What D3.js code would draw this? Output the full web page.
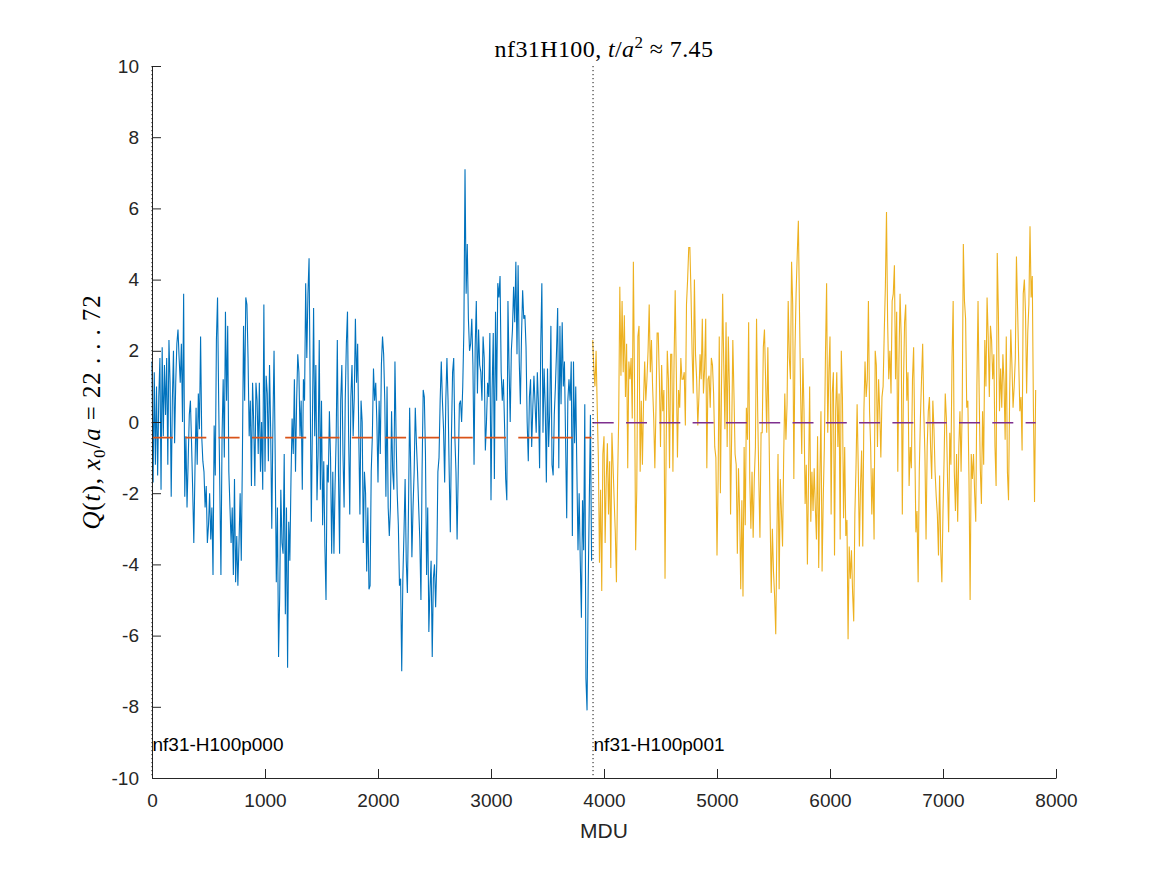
<!DOCTYPE html>
<html><head><meta charset="utf-8">
<script src="https://cdn.jsdelivr.net/npm/d3@7"></script>
<style>body{margin:0;background:#fff}</style>
</head><body>
<svg id="chart" width="1167" height="875"></svg>
<script>
// ---- data ----
const xTicks = [0, 1000, 2000, 3000, 4000, 5000, 6000, 7000, 8000];
const yTicks = [-10, -8, -6, -4, -2, 0, 2, 4, 6, 8, 10];
const sampleStep = 10;           // MDU between stored samples
const blueStart = 0;             // MDU of first sample, stream p000
const orangeStart = 3900;        // MDU of first sample, stream p001
const blueQ = [
 1.7,-1.7,1.4,-1.2,1.0,-1.5,0.7,1.8,-1.9,2.1,
 -0.4,1.6,0.2,1.8,-1.2,2.3,1.1,-2.1,0.6,2.0,
 -0.6,1.1,2.2,2.6,1.8,1.1,2.2,0.0,3.6,-2.1,
 -0.4,-2.4,-1.1,0.2,0.6,-0.6,-1.9,-3.4,-1.4,0.4,
 -1.2,0.8,-0.2,2.4,-0.4,-1.1,-1.4,-2.4,-1.8,-3.4,
 -2.9,-2.0,-3.3,-2.4,-4.3,-0.1,-1.5,2.3,3.5,0.6,
 -1.8,-4.3,-0.4,1.2,-1.0,3.1,0.6,2.7,-1.4,-2.4,
 -3.4,-2.4,-4.3,-1.6,-4.5,-3.2,-4.6,-3.4,-2.0,-3.9,
 -1.0,2.7,0.6,3.5,3.3,1.8,-0.4,0.6,-1.8,1.1,
 0.0,-1.8,1.1,0.6,-0.9,1.1,-1.4,0.0,-1.9,3.3,
 -1.4,1.3,0.8,-1.1,1.6,-0.2,-3.0,-0.1,2.0,-0.9,
 -4.5,-2.4,-6.6,-4.9,-1.9,-3.4,-3.7,-0.9,-5.4,-2.4,
 -6.9,-2.8,-3.9,-1.6,0.1,-0.9,1.2,-1.4,0.6,1.9,
 1.4,-0.4,0.6,-1.9,1.2,0.6,3.9,1.8,3.6,4.6,
 0.8,-2.8,0.1,3.2,-0.4,1.6,-2.2,-0.9,2.3,-1.9,
 0.6,-2.9,-1.1,-3.5,-5.0,-1.2,-1.7,0.3,-1.0,-3.7,
 -1.4,-3.7,-1.8,-0.4,2.3,-1.4,-3.7,0.6,1.6,-0.9,
 -2.4,0.6,2.2,3.1,-0.4,-2.6,0.7,1.6,-0.4,0.7,
 2.9,1.1,2.2,-0.4,-2.6,0.6,0.0,-3.4,-1.4,-2.0,
 -4.2,-2.4,-4.7,-4.6,-1.4,-0.4,1.5,0.6,1.1,0.0,
 -1.7,0.6,-0.9,1.6,2.4,1.9,0.6,-2.1,1.0,-2.4,
 -3.2,-2.4,0.3,-1.4,-1.9,1.7,-0.4,-2.0,-2.9,-4.6,
 -4.4,-7.0,-4.4,-3.1,-1.6,-3.9,-4.8,-2.4,0.4,-1.4,
 -3.8,-2.4,-1.4,0.4,-0.6,-1.4,-2.4,-3.3,-5.0,-1.4,
 0.9,0.7,-0.9,-4.3,-2.4,-5.9,-4.7,-3.9,-6.6,-4.4,
 -4.0,-5.2,-4.0,-1.4,-1.0,0.6,1.7,0.6,-0.2,-1.7,
 0.6,1.8,0.6,-1.4,-3.1,-0.4,1.4,1.8,-0.4,-1.4,
 -3.3,-1.4,0.5,0.6,0.0,1.0,2.6,7.1,3.6,5.0,
 2.9,2.0,2.2,2.9,1.6,-1.2,2.1,3.4,0.8,2.6,
 1.6,1.4,0.6,2.4,1.8,-0.8,0.0,1.1,0.7,2.5,
 -2.2,0.9,2.5,-1.6,3.1,0.6,3.9,3.5,4.1,1.4,
 0.6,1.2,-0.1,-1.6,-2.2,3.4,1.5,0.0,2.0,2.6,
 3.8,2.8,4.5,1.9,4.4,1.7,0.5,2.4,3.7,2.9,
 3.0,2.1,0.0,-1.1,0.7,1.2,-0.7,0.4,1.3,0.5,
 -0.3,1.4,0.5,-1.3,2.1,3.9,-0.3,1.5,0.4,-1.7,
 1.5,-0.7,0.3,2.7,-1.2,-1.5,0.2,1.0,2.0,3.2,
 -1.3,2.7,0.5,2.8,1.0,1.7,-0.5,-2.7,0.6,1.2,
 0.6,1.7,-3.2,1.7,-0.6,1.0,-1.4,-3.6,-2.0,-3.9,
 -5.5,-2.2,-3.6,0.5,-7.2,-8.1,-4.6,-2.2,0.2,-3.9
];
const orangeQ = [
 2.3,1.5,1.0,2.0,0.4,-1.0,-3.95,-1.9,-4.75,-0.9,
 -0.4,-3.4,-1.6,-0.6,-2.6,-1.1,-4.1,-0.3,-1.2,-2.2,
 -3.1,-4.5,-1.7,0.1,3.8,1.3,3.4,1.4,3.0,0.7,
 2.2,-1.3,1.7,1.2,1.8,0.1,4.5,1.1,-3.6,-1.9,
 2.4,2.7,-1.4,0.6,-1.2,0.6,1.7,0.6,1.2,2.0,
 3.3,1.4,2.3,1.0,0.1,-1.3,0.4,2.5,2.5,1.2,
 -0.7,1.6,0.3,0.9,-4.4,-0.7,2.0,1.2,-1.3,1.9,
 1.9,-1.4,1.7,3.7,1.4,-1.0,0.9,0.4,1.8,1.2,
 1.2,1.4,-0.1,3.3,4.0,4.9,4.9,3.6,1.9,0.8,
 4.0,1.9,1.2,-0.1,0.7,1.9,1.2,2.9,0.8,1.5,
 2.9,-1.3,1.2,1.3,0.4,1.8,1.6,0.8,-0.7,-1.0,
 -3.75,-1.6,2.4,-2.0,1.0,3.6,1.6,-0.2,2.8,-0.7,
 2.4,1.0,-2.6,-0.3,2.3,0.8,-0.9,-1.2,-3.7,-1.3,
 -2.5,-4.7,-2.2,-4.9,-0.7,-2.9,0.4,-0.5,2.8,-1.6,
 -3.0,-1.4,-3.25,-1.6,-0.7,2.9,0.3,-1.6,-3.25,-0.3,
 -0.3,2.1,2.6,1.2,-0.3,2.1,-0.2,-2.6,-4.8,-3.0,
 -4.2,-4.9,-5.96,-3.2,-0.9,-4.7,-1.6,-2.5,-3.5,-1.0,
 0.8,-0.5,0.5,3.4,1.8,1.2,4.5,3.3,-1.6,2.0,
 3.6,4.7,5.65,3.1,0.8,-0.9,1.8,0.3,-2.3,-1.2,
 -4.0,-1.6,1.0,-2.8,-1.4,-2.5,-1.3,-2.4,-3.3,-0.4,
 -4.1,-1.6,0.3,-4.2,-2.2,-0.7,1.9,3.9,-0.3,1.4,
 2.4,-2.6,0.8,1.4,-3.75,0.3,1.4,-0.7,0.8,-3.3,
 2.0,0.7,-2.7,-0.7,-3.2,-2.75,-6.1,-3.5,-4.4,-3.6,
 -4.8,-5.6,-2.6,-1.3,0.5,-1.3,-3.5,-1.8,-0.8,-3.5,
 0.3,1.7,0.7,1.2,3.4,0.3,-0.7,-2.6,-1.3,-3.3,
 2.0,1.6,-0.7,1.2,0.3,-1.0,0.7,1.0,2.5,3.8,
 5.9,2.8,1.2,2.0,0.8,3.4,3.6,4.4,1.2,3.1,
 -1.4,1.7,3.6,2.4,-2.6,1.0,2.8,3.3,0.6,1.4,
 -1.8,-0.7,-1.3,1.2,2.1,-0.5,-3.1,-2.5,-4.5,-1.4,
 0.1,1.2,2.2,0.3,-0.9,-3.3,-0.7,0.3,0.7,-0.7,
 -1.6,0.6,-0.2,-1.4,-2.1,-2.6,-3.75,-1.5,-3.6,-4.5,
 -2.5,-1.0,0.8,0.1,-1.6,-3.1,-0.3,-1.2,1.8,3.4,
 -1.4,-2.5,-0.9,-2.8,-0.7,0.3,-1.4,0.4,5.0,3.4,
 2.9,0.4,0.6,-1.6,-5.0,-0.9,-1.6,-0.9,-2.0,-2.8,
 1.0,3.4,0.8,-1.3,-2.3,0.3,-1.2,2.3,1.0,3.5,
 2.4,0.7,2.7,2.3,1.2,1.9,-0.7,-1.8,4.75,3.1,
 0.3,1.5,0.4,1.9,1.1,-0.5,2.4,-1.4,-2.2,0.8,
 2.6,1.6,0.4,1.0,1.8,4.65,3.2,1.7,0.3,0.7,
 -0.8,3.6,4.0,3.1,0.8,2.5,3.3,5.5,3.5,4.1,
 0.4,-2.25,0.9
];
const streamMeans = [-0.44, -0.02];
const streamBounds = [0, 3903];
const streamLabels = ["nf31-H100p000", "nf31-H100p001"];
const labelQ = -9.1;

// ---- drawing ----
const svg = d3.select("#chart");
const W = 1167, H = 875;
const mL = 152, mR = 1056, mT = 66, mB = 778;
const x = d3.scaleLinear().domain([0, 8000]).range([mL, mR]);
const y = d3.scaleLinear().domain([-10, 10]).range([mB, mT]);
const axisColor = "#262626";
const sans = "'Liberation Sans', Arial, sans-serif";
const serif = "'Liberation Serif', 'Times New Roman', serif";

svg.append("rect").attr("width", W).attr("height", H).attr("fill", "#fff");

const blue = blueQ.map((q, i) => [blueStart + i * sampleStep, q]);
const orange = orangeQ.map((q, i) => [orangeStart + i * sampleStep, q]);
const line = d3.line().x(d => x(d[0])).y(d => y(d[1]));

svg.append("path").datum(blue).attr("d", line)
  .attr("fill", "none").attr("stroke", "#0072BD").attr("stroke-width", 1.1);
svg.append("path").datum(orange).attr("d", line)
  .attr("fill", "none").attr("stroke", "#EDB120").attr("stroke-width", 1.1);

// mean lines
const meanSpans = [
  [blue[0][0], blue[blue.length - 1][0], streamMeans[0], "#D95319"],
  [orange[0][0], orange[orange.length - 1][0], streamMeans[1], "#7E2F8E"]
];
meanSpans.forEach(([a, b, m, c]) => {
  svg.append("line")
    .attr("x1", x(a)).attr("x2", x(b)).attr("y1", y(m)).attr("y2", y(m))
    .attr("stroke", c).attr("stroke-width", 1.6)
    .attr("stroke-dasharray", "21,12.3");
});

// axes
const fmt = d => String(d);
const gx = svg.append("g").attr("transform", `translate(0,${mB})`)
  .call(d3.axisBottom(x).tickValues(xTicks).tickFormat(fmt)
    .tickSizeInner(-9).tickSizeOuter(0).tickPadding(16));
const gy = svg.append("g").attr("transform", `translate(${mL},0)`)
  .call(d3.axisLeft(y).tickValues(yTicks).tickFormat(fmt)
    .tickSizeInner(-9).tickSizeOuter(0).tickPadding(13));
[gx, gy].forEach(g => {
  g.select(".domain").attr("stroke", axisColor).attr("stroke-width", 1);
  g.selectAll(".tick line").attr("stroke", axisColor).attr("stroke-width", 1);
  g.selectAll(".tick text").attr("fill", axisColor)
    .style("font-family", sans).style("font-size", "19px");
});

// stream boundaries (dotted)
streamBounds.forEach(b => {
  svg.append("line").attr("x1", x(b)).attr("x2", x(b))
    .attr("y1", y(10)).attr("y2", y(-10))
    .attr("stroke", "#111").attr("stroke-width", 1)
    .attr("stroke-dasharray", "1.2,2.8");
});
streamLabels.forEach((t, i) => {
  svg.append("text").attr("x", x(streamBounds[i]) + 0.5).attr("y", y(labelQ))
    .attr("dominant-baseline", "middle").attr("fill", "#000")
    .style("font-family", sans).style("font-size", "19px")
    .text(t);
});

// x label
svg.append("text").attr("x", (mL + mR) / 2).attr("y", 838)
  .attr("text-anchor", "middle").attr("fill", axisColor)
  .style("font-family", sans).style("font-size", "21px")
  .text("MDU");

// title (math-style)
const title = svg.append("text").attr("x", (mL + mR) / 2).attr("y", 57)
  .attr("text-anchor", "middle").attr("fill", "#000")
  .style("font-family", serif).style("font-size", "24px")
  .style("letter-spacing", "0.4px");
title.append("tspan").text("nf31H100, ");
title.append("tspan").attr("font-style", "italic").text("t");
title.append("tspan").text("/");
title.append("tspan").attr("font-style", "italic").text("a");
title.append("tspan").attr("dy", -9).style("font-size", "17px").text("2");
title.append("tspan").attr("dy", 9).text(" \u2248 7.45");

// y label (math-style)
const yl = svg.append("text").attr("transform", "translate(100,412) rotate(-90)")
  .attr("text-anchor", "middle").attr("fill", "#000")
  .style("font-family", serif).style("font-size", "25px")
  .style("letter-spacing", "0.9px");
yl.append("tspan").attr("font-style", "italic").text("Q");
yl.append("tspan").text("(");
yl.append("tspan").attr("font-style", "italic").text("t");
yl.append("tspan").text("), ");
yl.append("tspan").attr("font-style", "italic").text("x");
yl.append("tspan").attr("dy", 5).style("font-size", "17px").text("0");
yl.append("tspan").attr("dy", -5).text("/");
yl.append("tspan").attr("font-style", "italic").text("a");
yl.append("tspan").text(" = 22 . . . 72");
</script>
</body></html>
